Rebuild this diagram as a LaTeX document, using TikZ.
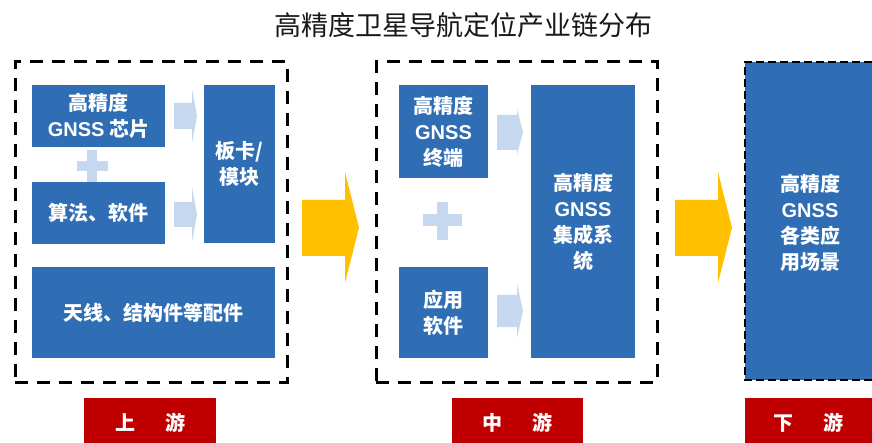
\documentclass[tikz,border=0pt]{standalone}
\usepackage{fontspec}
\setmainfont{Noto Sans CJK SC}
\newfontfamily\latb{Liberation Sans}[UprightFont={* Bold}, BoldFont={* Bold}]
\definecolor{boxblue}{HTML}{2F6EB5}
\definecolor{lightblue}{HTML}{C5D8EF}
\definecolor{arrowyellow}{HTML}{FFC000}
\definecolor{labred}{HTML}{C00000}
\newcommand{\gnss}{{\latb GNSS}}
\tikzset{
  bluebox/.style={fill=boxblue, draw=none, inner sep=0pt, outer sep=0pt, text=white,
    font=\fontsize{20}{26}\selectfont\bfseries, align=center},
  dashbox/.style={draw=black, line width=3pt, dash pattern=on 13pt off 9pt, inner sep=0pt, outer sep=0pt},
  lbl/.style={fill=labred, text=white, inner sep=0pt, outer sep=0pt, anchor=north west,
    font=\fontsize{20}{24}\selectfont\bfseries, minimum height=50pt},
  plusfill/.style={fill=lightblue},
  bigarrow/.style={fill=arrowyellow},
}
\begin{document}
\begin{tikzpicture}[x=1pt,y=-1pt]
\useasboundingbox (0,0) rectangle (872,443);
\fill[white] (0,0) rectangle (872,443);

% title
\node[text=black!90, font=\fontsize{27}{27}\selectfont] (title) at (463,25) {高精度卫星导航定位产业链分布};

% dashed group frames
\node[dashbox, minimum width=272pt, minimum height=320pt] (up) at (151,222) {};
\node[dashbox, minimum width=281pt, minimum height=320pt] (mid) at (516.5,222) {};

% upstream boxes
\node[bluebox, minimum width=133pt, minimum height=62pt] (chip) at (98.5,116) {高精度\\\gnss{} 芯片};
\node[bluebox, minimum width=133pt, minimum height=62pt] (algo) at (98.5,213) {算法、软件};
\node[bluebox, minimum width=71pt, minimum height=158pt] (board) at (239.5,164) {板卡/\\模块};
\node[bluebox, minimum width=243pt, minimum height=91pt] (ant) at (153.5,312.5) {天线、结构件等配件};

% upstream plus
\fill[plusfill] (77,161) rectangle (108,171);
\fill[plusfill] (87,150) rectangle (97,182);

% upstream small arrows
\fill[plusfill] (174,103) -- (192,103) -- (192,89) -- (197,116) -- (192,143) -- (192,129) -- (174,129) -- cycle;
\fill[plusfill] (174,202) -- (192,202) -- (192,187) -- (197,214.5) -- (192,242) -- (192,227) -- (174,227) -- cycle;

% midstream boxes
\node[bluebox, minimum width=89pt, minimum height=93pt] (term) at (443.5,131.5) {高精度\\\gnss\\终端};
\node[bluebox, minimum width=89pt, minimum height=91pt] (app) at (443.5,312.5) {应用\\软件};
\node[bluebox, minimum width=104pt, minimum height=273pt] (integ) at (583,221.5) {高精度\\\gnss\\集成系\\统};

% midstream plus
\fill[plusfill] (423,214) rectangle (462,226);
\fill[plusfill] (437,202) rectangle (448,240);

% midstream small arrows
\fill[plusfill] (497,115) -- (517,115) -- (517,109) -- (523,132) -- (517,155) -- (517,150) -- (497,150) -- cycle;
\fill[plusfill] (497,295) -- (517,295) -- (517,284) -- (523,311) -- (517,338) -- (517,327) -- (497,327) -- cycle;

% downstream box
\fill[boxblue] (745,62) rectangle (872,380);
\draw[line width=2pt, dash pattern=on 8pt off 4pt] (872,62) -- (745,62) -- (745,380) -- (872,380);
\node[text=white, font=\fontsize{20}{26}\selectfont\bfseries, align=center, inner sep=0pt] (down) at (810,223) {高精度\\\gnss\\各类应\\用场景};

% big yellow arrows
\fill[bigarrow] (302,200) -- (345,200) -- (345,172) -- (359,227.5) -- (345,283) -- (345,256) -- (302,256) -- cycle;
\fill[bigarrow] (675,200) -- (718,200) -- (718,172) -- (732,227.5) -- (718,283) -- (718,256) -- (675,256) -- cycle;

% stage labels
\node[lbl, minimum width=132pt] (lup) at (84,398) {上\hspace{1.5em}游};
\node[lbl, minimum width=131pt] (lmid) at (452,398) {中\hspace{1.5em}游};
\node[lbl, minimum width=127pt] (ldown) at (745,398) {下\hspace{1.5em}游};
\end{tikzpicture}
\end{document}
